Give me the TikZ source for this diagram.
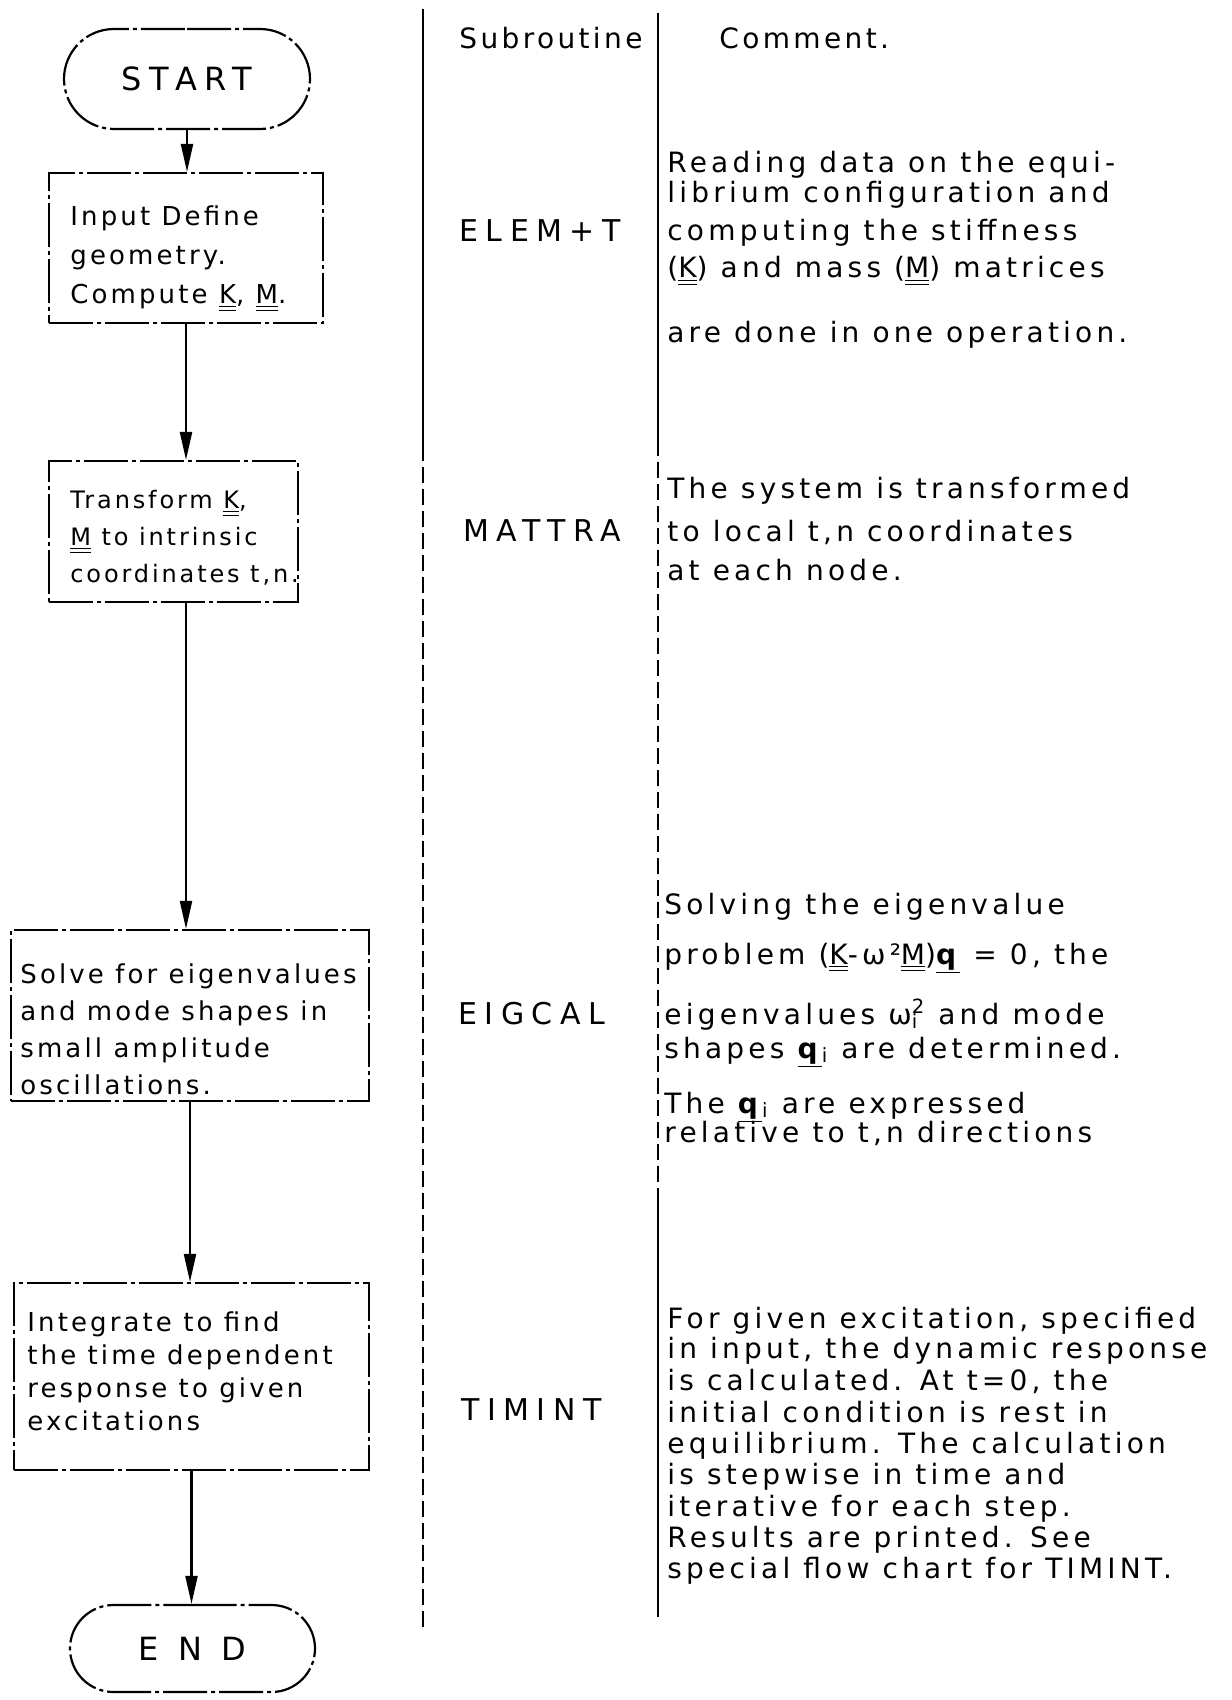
\documentclass[tikz,border=0pt]{standalone}
\usepackage{fontspec}
\setmainfont{DejaVu Sans}
\newfontfamily\handA[LetterSpace=12]{DejaVu Sans}
\newfontfamily\handB[LetterSpace=15]{DejaVu Sans}
\newfontfamily\handC[LetterSpace=25]{DejaVu Sans}
\newfontfamily\handD[LetterSpace=60]{DejaVu Sans}
\usetikzlibrary{shapes.misc,arrows.meta}
\newcommand\dul[1]{\underline{\underline{#1}}}
\newcommand\bq{\underline{\textbf{q}}}
\tikzset{
  flowbox/.style={draw, line width=1.1pt, dash pattern=on 22pt off 2pt on 2pt off 2pt, inner sep=0pt},
  termbox/.style={draw, rounded rectangle, line width=1.1pt, dash pattern=on 22pt off 2pt on 2pt off 2pt, inner sep=0pt},
  flowarrow/.style={line width=1.1pt, -{Triangle[length=14pt,width=6pt]}},
  boxtxt/.style={anchor=west, align=left, inner sep=0pt},
  cmt/.style={anchor=base west, inner sep=0pt, font=\handB\fontsize{14}{16}\selectfont},
  sublabel/.style={anchor=west, inner sep=0pt, font=\handC\fontsize{15}{17}\selectfont},
  divider/.style={line width=1.1pt},
  divdash/.style={line width=1.1pt, dash pattern=on 8pt off 3pt}
}
\begin{document}
\begin{tikzpicture}[x=0.5pt,y=-0.5pt]
\useasboundingbox (0,0) rectangle (1231,1700);

% dividers
\draw[divider] (423,9) -- (423,445);
\draw[divdash] (423,445) -- (423,1627);
\draw[divider] (658,13) -- (658,440);
\draw[divdash] (658,440) -- (658,1200);
\draw[divider] (658,1200) -- (658,1617);

% headers
\node[anchor=west, inner sep=0pt, font=\handA\fontsize{14}{16}\selectfont] (hsub) at (459,38) {Subroutine};
\node[anchor=west, inner sep=0pt, font=\handA\fontsize{14}{16}\selectfont] (hcom) at (719,38) {Comment.};

% flow chart
\node[termbox, minimum width=123pt, minimum height=50pt, font=\handC\fontsize{16}{18}\selectfont] (start) at (187,79) {START};
\node[flowbox, minimum width=137pt, minimum height=75pt] (b1) at (186,248) {};
\node[flowbox, minimum width=124.5pt, minimum height=70.5pt] (b2) at (173.5,531.5) {};
\node[flowbox, minimum width=179pt, minimum height=85.5pt] (b3) at (190,1015.5) {};
\node[flowbox, minimum width=177.5pt, minimum height=93.5pt] (b4) at (191.5,1376.5) {};
\node[termbox, minimum width=122.5pt, minimum height=43.5pt, font=\handD\fontsize{16}{18}\selectfont] (end) at (192.5,1648.5) {END};

\node[boxtxt, font=\handA\fontsize{13}{19.5}\selectfont] (t1) at (70,259) {Input Define\\geometry.\\Compute \dul{K}, \dul{M}.};
\node[boxtxt, font=\handA\fontsize{12}{18.5}\selectfont] (t2) at (70,538) {Transform \dul{K},\\\dul{M} to intrinsic\\coordinates t,n.};
\node[boxtxt, font=\handA\fontsize{13}{18.5}\selectfont] (t3) at (20,1029) {Solve for eigenvalues\\and mode shapes in\\small amplitude\\oscillations.};
\node[boxtxt, font=\handA\fontsize{13}{16.5}\selectfont] (t4) at (27,1371) {Integrate to find\\the time dependent\\response to given\\excitations};

\draw[flowarrow] (start.south) -- (start.south |- b1.north);
\draw[flowarrow] (b1.south) -- (b1.south |- b2.north);
\draw[flowarrow] (b1.south |- b2.south) -- (b1.south |- b3.north);
\draw[flowarrow] (b3.south) -- (b3.south |- b4.north);
\draw[flowarrow] (b4.south) -- (b4.south |- end.north);

% subroutine names
\node[sublabel] (s1) at (459,231) {ELEM+T};
\node[sublabel] (s2) at (463,531) {MATTRA};
\node[sublabel] (s3) at (458,1014) {EIGCAL};
\node[sublabel] (s4) at (461,1410) {TIMINT};

% comments
\node[cmt] (c11) at (667,173) {Reading data on the equi-};
\node[cmt] (c12) at (667,203) {librium configuration and};
\node[cmt] (c13) at (667,241) {computing the stiffness};
\node[cmt] (c14) at (667,278) {(\dul{K}) and mass (\dul{M}) matrices};
\node[cmt] (c15) at (667,343) {are done in one operation.};

\node[cmt] (c21) at (667,498) {The system is transformed};
\node[cmt] (c22) at (667,541) {to local t,n coordinates};
\node[cmt] (c23) at (667,580) {at each node.};

\node[cmt] (c31) at (664,914) {Solving the eigenvalue};
\node[cmt] (c32) at (664,964) {problem (\dul{K}-ω²\dul{M})\bq{} = 0, the};
\node[cmt] (c33) at (664,1024) {eigenvalues ω\rlap{\textsubscript{i}}\textsuperscript{2} and mode};
\node[cmt] (c34) at (664,1058) {shapes \bq\textsubscript{i} are determined.};
\node[cmt] (c35) at (664,1113) {The \bq\textsubscript{i} are expressed};
\node[cmt] (c36) at (664,1142) {relative to t,n directions};

\node[cmt] (c41) at (667,1328) {For given excitation, specified};
\node[cmt] (c42) at (667,1358) {in input, the dynamic response};
\node[cmt] (c43) at (667,1390) {is calculated. At t=0, the};
\node[cmt] (c44) at (667,1422) {initial condition is rest in};
\node[cmt] (c45) at (667,1453) {equilibrium. The calculation};
\node[cmt] (c46) at (667,1484) {is stepwise in time and};
\node[cmt] (c47) at (667,1516) {iterative for each step.};
\node[cmt] (c48) at (667,1547) {Results are printed. See};
\node[cmt] (c49) at (667,1578) {special flow chart for TIMINT.};
\end{tikzpicture}
\end{document}
